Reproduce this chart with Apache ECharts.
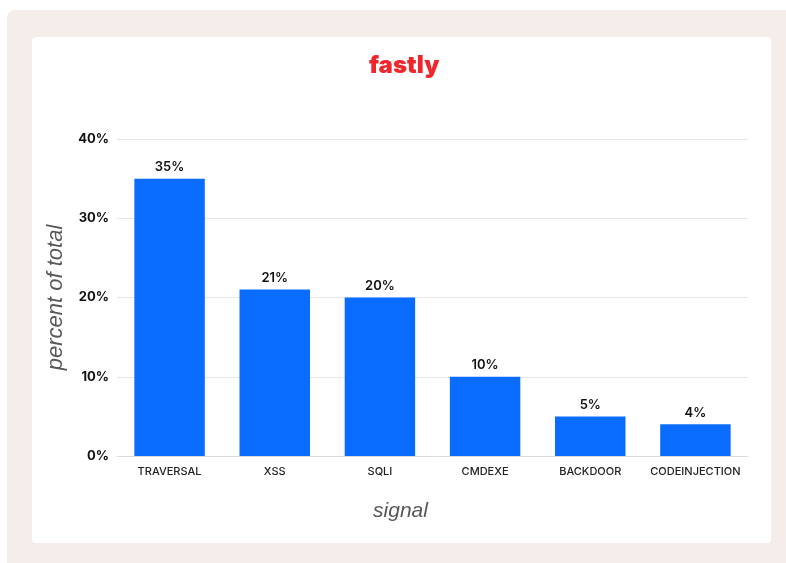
<!DOCTYPE html>
<html><head><meta charset="utf-8">
<script src="https://cdn.jsdelivr.net/npm/echarts@6/dist/echarts.min.js"></script>
<style>
html,body{margin:0;padding:0;background:#fff;width:786px;height:563px;overflow:hidden;}
#bg{position:absolute;left:7px;top:10px;width:800px;height:580px;background:#f4edea;border-radius:8px;}
#card{position:absolute;left:32px;top:37px;width:739px;height:506px;background:#fff;border-radius:4px;}
#chart{position:absolute;left:0;top:0;width:786px;height:563px;}
</style></head>
<body>
<div id="bg"></div><div id="card"></div>
<div id="chart"></div>
<script>
const categories = ['TRAVERSAL','XSS','SQLI','CMDEXE','BACKDOOR','CODEINJECTION'];
const values = [35,21,20,10,5,4];
const yTicks = [0,10,20,30,40];

const chart = echarts.init(document.getElementById('chart'), null, {renderer:'canvas'});
chart.setOption({
  backgroundColor:'transparent',
  title:{text:'fastly', left:364, top:49, padding:5,
    textStyle:{color:'#f0262d', fontSize:24, fontWeight:900, fontFamily:'Inter, Roboto, sans-serif'}},
  grid:{left:117, right:38, top:139, bottom:107},
  xAxis:{type:'category', data:categories,
    axisLine:{lineStyle:{color:'#dddddd'}}, axisTick:{show:false},
    axisLabel:{interval:0, color:'#222', fontSize:11, fontWeight:500, fontFamily:'Inter, Roboto, sans-serif', margin:10},
    name:'signal', nameLocation:'middle', nameGap:45,
    nameTextStyle:{color:'#585858', fontSize:21, fontStyle:'italic', fontFamily:'"Liberation Sans", Arial, sans-serif', padding:[0,64,0,0]}},
  yAxis:{type:'value', min:yTicks[0], max:yTicks[yTicks.length-1], interval:10,
    axisLine:{show:false}, axisTick:{show:false},
    splitLine:{lineStyle:{color:'#e6e6e6'}},
    axisLabel:{formatter:'{value}%', color:'#111', fontSize:13, fontWeight:'bold', fontFamily:'Inter, Roboto, sans-serif', margin:8},
    name:'percent of total', nameLocation:'middle', nameGap:46, nameRotate:90,
    nameTextStyle:{color:'#585858', fontSize:22, fontStyle:'italic', fontFamily:'"Liberation Sans", Arial, sans-serif'}},
  series:[{type:'bar', data:values, barWidth:'67%',
    itemStyle:{color:'#0a6cff'},
    label:{show:true, position:'top', formatter:'{c}%', color:'#111', fontSize:13, fontWeight:600, fontFamily:'Inter, Roboto, sans-serif', distance:5}}]
});
</script>
</body></html>
